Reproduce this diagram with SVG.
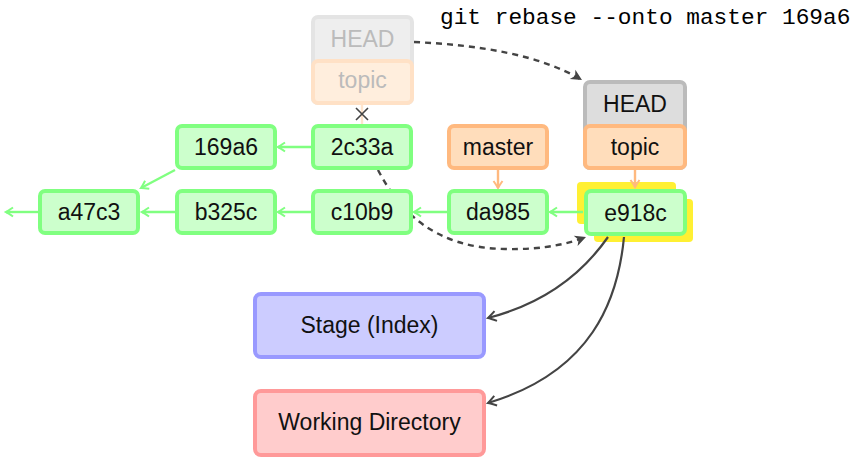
<svg xmlns="http://www.w3.org/2000/svg" width="863" height="464" viewBox="0 0 863 464">
<style>
  .commit rect { fill: #ccffcc; stroke: #80ff80; stroke-width: 4; }
  .branch rect { fill: #ffddbb; stroke: #ffb97f; stroke-width: 4; }
  .head rect { fill: #dddddd; stroke: #bbbbbb; stroke-width: 4; }
  text { font-family: "Liberation Sans", Arial, sans-serif; font-size: 23px; fill: #111; text-anchor: middle; }
  .faded text { fill: #bbbbbb; }
  .g { stroke: #80ff80; stroke-width: 2.4; fill: none; }
  .o { stroke: #ffb97f; stroke-width: 2.4; fill: none; }
  .d { stroke: #444; stroke-width: 2.4; fill: none; stroke-dasharray: 6 5; }
  .s { stroke: #444; stroke-width: 2.2; fill: none; }
  .cmd { font-family: "Liberation Mono", "Courier New", monospace; font-size: 22.8px; text-anchor: start; fill: #000; }
</style>
<defs>
  <marker id="ag" markerUnits="userSpaceOnUse" markerWidth="14" markerHeight="14" viewBox="-10 -7 14 14" refX="0" refY="0" orient="auto">
    <path d="M-7,-4.5 Q-2,-1 0,0 Q-2,1 -7,4.5" fill="none" stroke="#80ff80" stroke-width="2"/>
  </marker>
  <marker id="ao" markerUnits="userSpaceOnUse" markerWidth="14" markerHeight="14" viewBox="-10 -7 14 14" refX="0" refY="0" orient="auto">
    <path d="M-7,-4.5 Q-2,-1 0,0 Q-2,1 -7,4.5" fill="none" stroke="#ffb97f" stroke-width="2"/>
  </marker>
  <marker id="as" markerUnits="userSpaceOnUse" markerWidth="16" markerHeight="16" viewBox="-12 -8 16 16" refX="0" refY="0" orient="auto">
    <path d="M-8,-5 Q-2,-1 0,0 Q-2,1 -8,5" fill="none" stroke="#444" stroke-width="2"/>
  </marker>
  <marker id="ad" markerUnits="userSpaceOnUse" markerWidth="16" markerHeight="16" viewBox="-12 -8 16 16" refX="0" refY="0" orient="auto">
    <path d="M-11,-5.5 L0,0 L-11,5.5 L-8,0 Z" fill="#444" stroke="none"/>
  </marker>
</defs>

<!-- highlight -->
<g id="highlight">
  <rect x="577" y="182" width="99" height="42" rx="4" fill="#fff033"/>
  <rect x="594" y="199" width="99" height="43" rx="4" fill="#fff033"/>
</g>

<g id="connectors">
  <line class="g" x1="311" y1="147" x2="278" y2="147" marker-end="url(#ag)"/>
  <line class="g" x1="175" y1="170" x2="141" y2="188" marker-end="url(#ag)"/>
  <line class="g" x1="583" y1="212" x2="550" y2="212" marker-end="url(#ag)"/>
  <line class="g" x1="447" y1="212" x2="414" y2="212" marker-end="url(#ag)"/>
  <line class="g" x1="311" y1="212" x2="278" y2="212" marker-end="url(#ag)"/>
  <line class="g" x1="175" y1="212" x2="142" y2="212" marker-end="url(#ag)"/>
  <line class="g" x1="38" y1="212" x2="6" y2="212" marker-end="url(#ag)"/>
  <line class="o" x1="498" y1="170" x2="498" y2="188" marker-end="url(#ao)"/>
  <line class="o" x1="635" y1="170" x2="635" y2="187" marker-end="url(#ao)"/>
  <line x1="362" y1="105" x2="362" y2="124" stroke="#ffe4cc" stroke-width="2.4"/>
  <path d="M356,108 L368,120 M368,108 L356,120" stroke="#444" stroke-width="1.6" fill="none"/>
  <path class="d" d="M414,42 C480,45 540,55 582,80" marker-end="url(#ad)"/>
  <path class="d" d="M378,170 C400,212 435,248 505,249 C545,250 570,243 586,237" marker-end="url(#ad)"/>
  <path class="s" d="M608,237 C585,270 550,302 488,318" marker-end="url(#as)"/>
  <path class="s" d="M624,237 C618,300 592,372 488,403" marker-end="url(#as)"/>
</g>

<g id="head-old" class="faded">
  <rect x="313" y="17" width="99" height="86" rx="5" fill="#eeeeee" stroke="#e4e4e4" stroke-width="4"/>
  <text x="362.5" y="47">HEAD</text>
</g>
<g id="topic-old" class="faded">
  <rect x="313" y="61" width="99" height="42" rx="5" fill="#ffeedd" stroke="#ffe1c6" stroke-width="4"/>
  <text x="362.5" y="88">topic</text>
</g>

<g id="head" class="head">
  <rect x="585" y="82" width="100" height="86" rx="5"/>
  <text x="635" y="112">HEAD</text>
</g>
<g id="topic" class="branch">
  <rect x="585" y="126" width="100" height="42" rx="5"/>
  <text x="635" y="155">topic</text>
</g>
<g id="master" class="branch">
  <rect x="449" y="126" width="98" height="42" rx="5"/>
  <text x="498" y="155">master</text>
</g>

<g id="c169a6" class="commit">
  <rect x="177" y="126" width="98" height="42" rx="5"/>
  <text x="226" y="155">169a6</text>
</g>
<g id="c2c33a" class="commit">
  <rect x="313" y="126" width="98" height="42" rx="5"/>
  <text x="362" y="155">2c33a</text>
</g>
<g id="ca47c3" class="commit">
  <rect x="40" y="191" width="98" height="42" rx="5"/>
  <text x="89" y="220">a47c3</text>
</g>
<g id="cb325c" class="commit">
  <rect x="177" y="191" width="98" height="42" rx="5"/>
  <text x="226" y="220">b325c</text>
</g>
<g id="cc10b9" class="commit">
  <rect x="313" y="191" width="98" height="42" rx="5"/>
  <text x="362" y="220">c10b9</text>
</g>
<g id="cda985" class="commit">
  <rect x="449" y="191" width="98" height="42" rx="5"/>
  <text x="498" y="220">da985</text>
</g>
<g id="ce918c" class="commit">
  <rect x="586" y="191" width="99" height="43" rx="5"/>
  <text x="635.5" y="221">e918c</text>
</g>

<g id="stage">
  <rect x="255" y="294" width="229" height="63" rx="6" fill="#ccccff" stroke="#9999ff" stroke-width="4"/>
  <text x="369.5" y="333">Stage (Index)</text>
</g>
<g id="workdir">
  <rect x="255" y="391" width="229" height="64" rx="6" fill="#ffcccc" stroke="#ff9999" stroke-width="4"/>
  <text x="369.5" y="430">Working Directory</text>
</g>

<text class="cmd" x="440" y="24">git rebase --onto master 169a6</text>
</svg>
